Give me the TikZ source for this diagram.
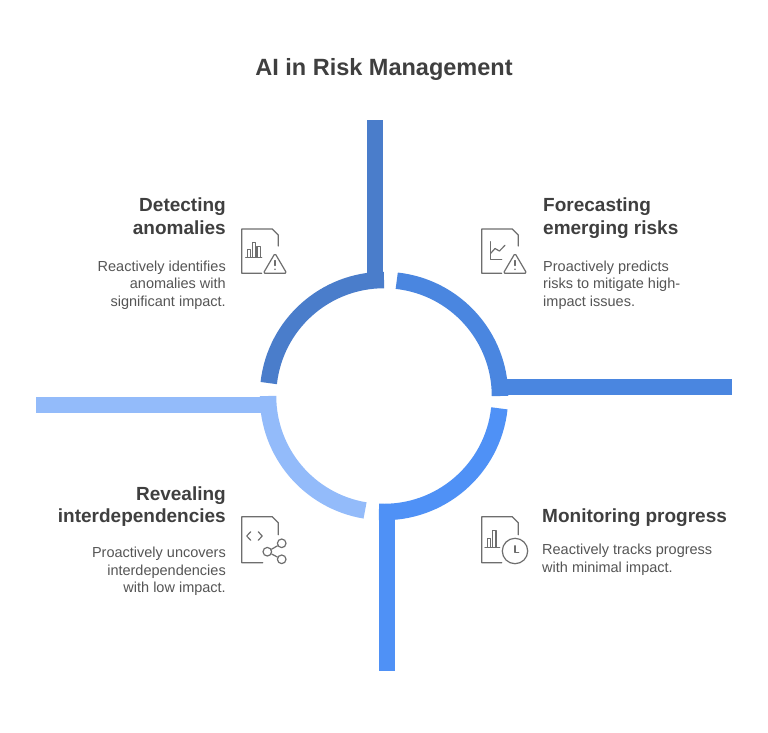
\documentclass[tikz,border=0pt]{standalone}
\usepackage{fontspec}
\setmainfont{Liberation Sans}
\definecolor{riskdark}{HTML}{4A7DCB}
\definecolor{riskmid}{HTML}{4A86E0}
\definecolor{riskbright}{HTML}{4F91F6}
\definecolor{risklight}{HTML}{93BBFA}
\definecolor{headgray}{HTML}{3F3F3F}
\definecolor{bodygray}{HTML}{555555}
\definecolor{icongray}{HTML}{6E6E6E}

\tikzset{
  ring/.style={line width=16.5pt},
  heading/.style={inner sep=0pt, text=headgray, font=\fontsize{19}{22.5}\selectfont\bfseries},
  bodytext/.style={inner sep=0pt, text=bodygray, font=\fontsize{14.5}{17.5}\selectfont},
  icon/.style={draw=icongray, line width=1.2pt, line cap=round, line join=round},
  iconring/.style={icon, circle, inner sep=0pt},
}

\begin{document}
\begin{tikzpicture}[x=1pt,y=1pt]
\useasboundingbox (0,0) rectangle (768,-732);
\fill[white] (0,0) rectangle (768,-732);
\coordinate (ctr) at (384,-396);

\node[heading, anchor=base, font=\fontsize{23.5}{28}\selectfont\bfseries] (title) at (384,-75) {AI in Risk Management};

% ring pieces with their arms
\draw[ring, riskdark] ([shift={(173.6:116)}]ctr) arc[start angle=173.6, end angle=90, radius=116];
\draw[ring, riskdark] (375,-120) -- (375,-282);
\draw[ring, riskmid] ([shift={(83.7:116)}]ctr) arc[start angle=83.7, end angle=0, radius=116];
\draw[ring, riskmid] (496,-387) -- (732,-387);
\draw[ring, riskbright] ([shift={(-6.1:116)}]ctr) arc[start angle=-6.1, end angle=-92.5, radius=116];
\draw[ring, riskbright] (387,-508) -- (387,-671);
\draw[ring, risklight] ([shift={(-99.4:116)}]ctr) arc[start angle=-99.4, end angle=-180, radius=116];
\draw[ring, risklight] (36,-405) -- (270,-405);

% texts (base = last line)
\node[heading, anchor=base east, align=right] (anomhead) at (226,-234) {Detecting\\anomalies};
\node[bodytext, anchor=base east, align=right] (anomtext) at (226,-306) {Reactively identifies\\anomalies with\\significant impact.};
\node[heading, anchor=base west, align=left] (forehead) at (543,-234) {Forecasting\\emerging risks};
\node[bodytext, anchor=base west, align=left] (foretext) at (543,-306) {Proactively predicts\\risks to mitigate high-\\impact issues.};
\node[heading, anchor=base east, align=right] (revhead) at (226,-522.5) {Revealing\\interdependencies};
\node[bodytext, anchor=base east, align=right] (revtext) at (226,-592.5) {Proactively uncovers\\interdependencies\\with low impact.};
\node[heading, anchor=base west, align=left] (monhead) at (542,-522.5) {Monitoring progress};
\node[bodytext, anchor=base west, align=left] (montext) at (542,-572) {Reactively tracks progress\\with minimal impact.};

% icon: anomalies
\begin{scope}[shift={(241.7,-229)}]
  \draw[icon] (20,-44.3) -- (0,-44.3) -- (0,0) -- (30.6,0) -- (36.6,-6) -- (36.6,-17);
  \draw[icon] (5.6,-28.3) -- (5.6,-20.3) -- (9,-20.3) -- (9,-28.3);
  \draw[icon] (10.5,-28.3) -- (10.5,-13.7) -- (13.8,-13.7) -- (13.8,-28.3);
  \draw[icon] (15.3,-28.3) -- (15.3,-17.7) -- (18.6,-17.7) -- (18.6,-28.3);
  \draw[icon] (4,-28.3) -- (20,-28.3);
  \draw[icon, rounded corners=1.5pt] (21.6,-44.3) -- (45,-44.3) -- (33.3,-24.3) -- cycle;
  \draw[icon] (33.3,-31.5) -- (33.3,-36.5);
  \fill[icongray] (33.3,-40.3) circle[radius=0.9];
\end{scope}

% icon: forecasting
\begin{scope}[shift={(481.7,-229)}]
  \draw[icon] (20,-44.3) -- (0,-44.3) -- (0,0) -- (30.6,0) -- (36.6,-6) -- (36.6,-17);
  \draw[icon] (9,-12.7) -- (9,-30.3) -- (20,-30.3);
  \draw[icon] (9,-24.3) -- (13.3,-19.5) -- (17.7,-22) -- (23.3,-16.3);
  \draw[icon, rounded corners=1.5pt] (21.6,-44.3) -- (45,-44.3) -- (33.3,-24.3) -- cycle;
  \draw[icon] (33.3,-31.5) -- (33.3,-36.5);
  \fill[icongray] (33.3,-40.3) circle[radius=0.9];
\end{scope}

% icon: interdependencies
\begin{scope}[shift={(241.7,-516.7)}]
  \draw[icon] (21,-46) -- (0,-46) -- (0,0) -- (30.6,0) -- (36.6,-6) -- (36.6,-18);
  \draw[icon] (9,-15) -- (5,-19.3) -- (9,-23.6);
  \draw[icon] (16.5,-15) -- (20.5,-19.3) -- (16.5,-23.6);
  \node[iconring, minimum size=8.6pt] (shareT) at (40,-26.6) {};
  \node[iconring, minimum size=8.6pt] (shareL) at (25.6,-35) {};
  \node[iconring, minimum size=8.6pt] (shareB) at (40,-42.6) {};
  \draw[icon] (shareL) -- (shareT);
  \draw[icon] (shareL) -- (shareB);
\end{scope}

% icon: monitoring
\begin{scope}[shift={(481.7,-516.7)}]
  \draw[icon] (20,-46) -- (0,-46) -- (0,0) -- (30.6,0) -- (36.6,-6) -- (36.6,-18);
  \draw[icon] (5.6,-30.6) -- (5.6,-21.6) -- (9,-21.6) -- (9,-30.6);
  \draw[icon] (11,-30.6) -- (11,-14) -- (14.3,-14) -- (14.3,-30.6);
  \draw[icon] (3.3,-30.6) -- (18,-30.6);
  \node[iconring, minimum size=25.4pt] (clock) at (33.3,-34.3) {};
  \draw[icon] (33.3,-29) -- (33.3,-36) -- (37,-36);
\end{scope}
\end{tikzpicture}
\end{document}
